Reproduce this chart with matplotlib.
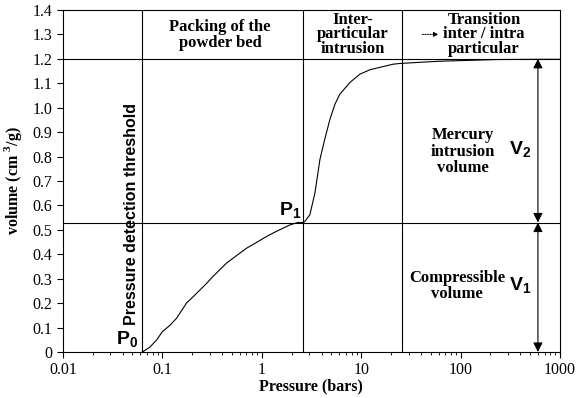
import matplotlib.pyplot as plt
from matplotlib.ticker import FixedLocator, FuncFormatter

plt.rcParams['mathtext.fontset'] = 'custom'
plt.rcParams['mathtext.rm'] = 'Liberation Serif:bold'
plt.rcParams['mathtext.bf'] = 'Liberation Serif:bold'
plt.rcParams['mathtext.sf'] = 'Liberation Sans:bold'

# intrusion curve: pressure (bars) vs cumulative volume (cm3/g)
pressure = [0.063, 0.075, 0.088, 0.1, 0.12, 0.139, 0.175, 0.221, 0.27, 0.325, 0.443,
            0.56, 0.705, 0.9, 1.12, 1.41, 1.92, 2.3, 2.62, 2.72, 3.05, 3.43, 3.85,
            4.3, 4.85, 5.45, 6.1, 7.7, 9.7, 12.2, 15.4, 21.0, 24.6, 60.0, 231.0, 600.0, 1000.0]
volume = [0.0, 0.02, 0.05, 0.083, 0.11, 0.138, 0.2, 0.24, 0.275, 0.31, 0.364,
          0.395, 0.425, 0.45, 0.473, 0.494, 0.52, 0.53, 0.53, 0.535, 0.562, 0.651, 0.788,
          0.87, 0.952, 1.014, 1.055, 1.103, 1.137, 1.155, 1.165, 1.178, 1.181, 1.19, 1.197,
          1.198, 1.198]

p0 = 0.063
p1 = 2.62
p_inter = 25.5
v1 = 0.53
v_total = 1.2
x_arrow = 600

serif = 'Liberation Serif'
sans = 'Liberation Sans'

fig = plt.figure(figsize=(5.77, 3.98), dpi=100)
ax = fig.add_axes([0.109, 0.1156, 0.8615, 0.8594])

ax.plot(pressure, volume, color='black', lw=0.8)
ax.set_xscale('log')
ax.set_xlim(0.01, 1000)
ax.set_ylim(0, 1.4)

# region boundaries
for xv in (p0, p1, p_inter):
    ax.axvline(xv, color='black', lw=0.8)
ax.axhline(v_total, color='black', lw=0.8)
ax.axhline(v1, color='black', lw=0.8)

ax.yaxis.set_major_locator(FixedLocator([i / 10 for i in range(15)]))
ax.yaxis.set_major_formatter(FuncFormatter(lambda v, p: '0' if v == 0 else f'{v:.1f}'))
ax.xaxis.set_major_formatter(FuncFormatter(lambda v, p: f'{v:g}'))
ax.tick_params(direction='out', labelsize=11.5, length=4, width=0.8)
ax.tick_params(which='minor', direction='out', length=2, width=0.6)
for lab in ax.get_xticklabels() + ax.get_yticklabels():
    lab.set_fontfamily(serif)
for s in ax.spines.values():
    s.set_linewidth(0.8)

ax.set_xlabel('Pressure (bars)', fontfamily=serif, fontweight='bold', fontsize=11.5, labelpad=0)
ax.set_ylabel('volume (cm $^{3}$/g)', fontfamily=serif, fontweight='bold', fontsize=11.5, labelpad=6)

txt = dict(ha='center', va='center', multialignment='center', fontfamily=serif,
           fontweight='bold', fontsize=12)

# region titles
ax.text(0.38, 1.298, 'Packing of the\npowder bed', linespacing=1.0, **txt)
ax.text(8.3, 1.30, 'Inter-\nparticular\nintrusion', linespacing=0.9, **txt)
ax.text(172, 1.30, 'Transition\ninter / intra\nparticular', linespacing=0.9, **txt)
ax.annotate('', xy=(60, 1.30), xytext=(41, 1.30),
            arrowprops=dict(arrowstyle='-|>', lw=0.7, ls=(0, (1.5, 1.2)), color='black',
                            mutation_scale=7, shrinkA=0, shrinkB=0))

ax.text(105, 0.82, 'Mercury\nintrusion\nvolume', linespacing=1.05, **txt)
ax.text(92, 0.27, 'Compressible\nvolume', linespacing=1.05, **txt)

lbl = dict(ha='center', va='center', fontsize=14)
ax.text(400, 0.83, r'$\mathsf{V_2}$', **lbl)
ax.text(400, 0.275, r'$\mathsf{V_1}$', **lbl)
ax.text(1.92, 0.583, r'$\mathsf{P_1}$', **lbl)
ax.text(0.044, 0.055, r'$\mathsf{P_0}$', **lbl)
ax.text(0.0495, 0.565, 'Pressure detection threshold', rotation=90, ha='center', va='center',
        fontfamily=sans, fontweight='bold', fontsize=11.5)

# volume arrows
arrow = dict(arrowstyle='<|-|>', lw=0.8, color='black', mutation_scale=14, shrinkA=0, shrinkB=0)
ax.annotate('', xy=(x_arrow, v_total), xytext=(x_arrow, v1), arrowprops=arrow)
ax.annotate('', xy=(x_arrow, v1), xytext=(x_arrow, 0), arrowprops=arrow)

fig.savefig('out.png', dpi=100)
